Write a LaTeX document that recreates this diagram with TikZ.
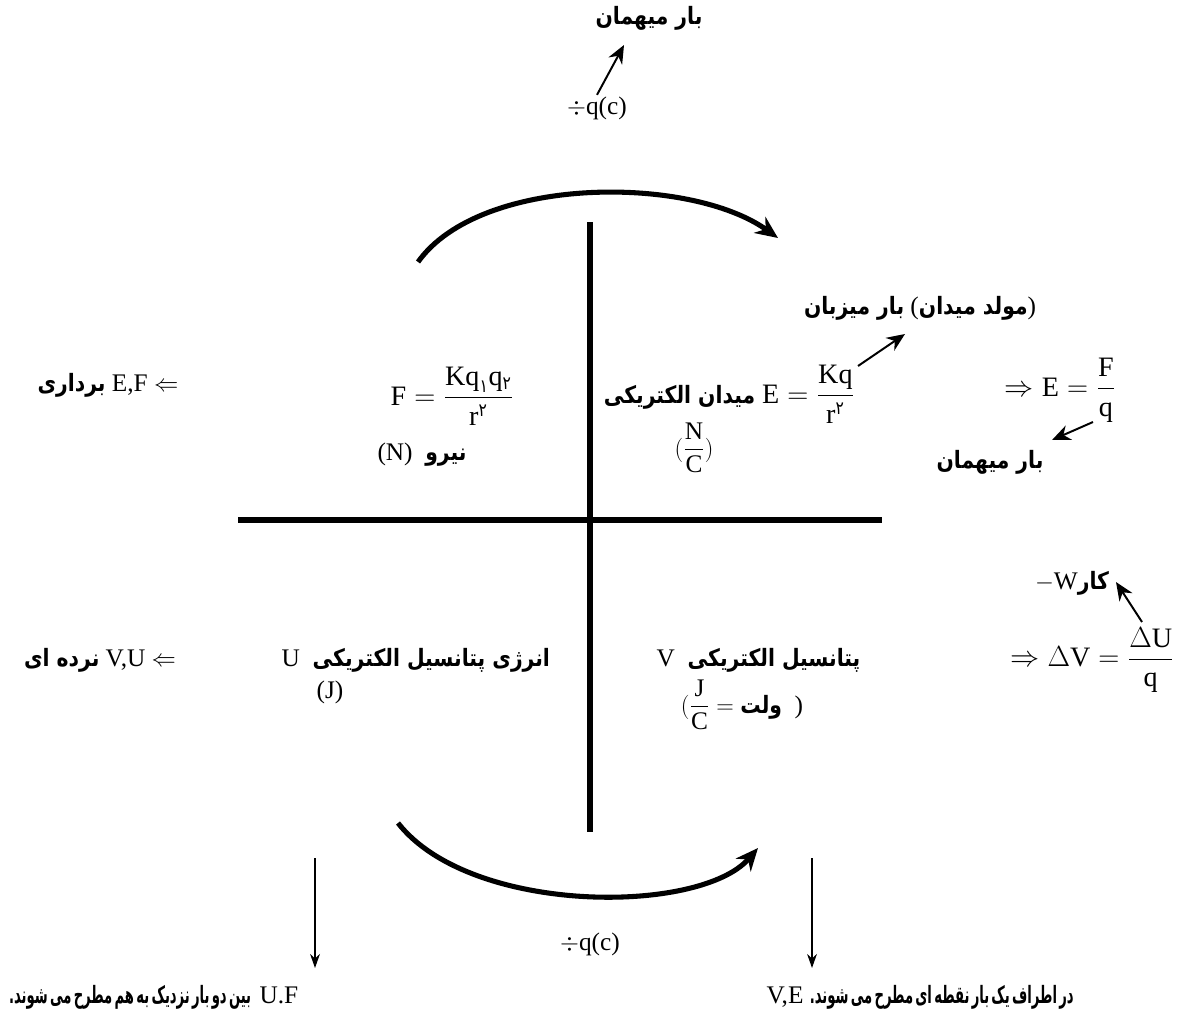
\documentclass[tikz,border=0pt]{standalone}
\usepackage{amsmath}
\usepackage{fontspec}
\setmainfont{Liberation Serif}
\newfontfamily\fafont[Script=Arabic,FakeStretch=0.85]{DejaVu Sans}
\newfontfamily\fanarrow[Script=Arabic,FakeStretch=0.55,WordSpace=0.5]{DejaVu Sans}
\TeXXeTstate=1
\usetikzlibrary{arrows.meta}
\newcommand{\fa}[1]{{\fafont\bfseries\fontsize{17}{20}\selectfont\beginR #1\endR}}
\newcommand{\fas}[1]{{\fanarrow\bfseries\fontsize{17}{20}\selectfont\beginR #1\endR}}
\newcommand{\fn}[1]{\hbox{\fafont\fontsize{13}{13}\selectfont #1}}
\tikzset{>=Stealth,every node/.style={font=\fontsize{18}{22}\selectfont,inner sep=1pt},
  formula/.style={font=\fontsize{20}{24}\selectfont},
  axis/.style={line width=3.6pt},
  turn/.style={line width=3.6pt,-{Stealth[length=16pt,width=14pt]}},
  note/.style={line width=1.4pt,-{Stealth[length=13pt,width=11pt]}},
  drop/.style={line width=1.1pt,-{Stealth[length=10pt,width=7pt]}}}
\begin{document}
\begin{tikzpicture}[x=0.025cm,y=-0.025cm]
\useasboundingbox (0,0) rectangle (1200,1011);
% quadrants
\draw[axis] (590,222)--(590,832);\draw[axis] (238,520)--(882,520);
\draw[turn] (418,262) .. controls (480,175) and (690,175) .. (778,238);
\draw[turn] (398,823) .. controls (470,915) and (700,915) .. (758,848);
% top
\node (guest) at (649,18){\fa{بار میهمان}};
\node (divT) at (597,108){$\div$q(c)};
\coordinate (guestTip) at (624,45);\draw[note] (divT.north)--(guestTip);
% force
\node (vecNote) at (108,385){\fa{برداری} E,F $\Leftarrow$};
\node[formula] (force) at (452,396){$\mathrm{F}=\dfrac{\mathrm{Kq}_{\fn{۱}}\mathrm{q}_{\fn{۲}}}{\mathrm{r}^{\fn{۲}}}$};
\node (forceUnit) at (422,455){(N)\ \ \fa{نیرو}};
% field
\node[formula] (field) at (729,394){\fa{میدان الکتریکی}\ $\mathrm{E}=\dfrac{\mathrm{Kq}}{\mathrm{r}^{\fn{۲}}}$};
\node (fieldUnit) at (694,448){$(\dfrac{\mathrm{N}}{\mathrm{C}})$};
\node (host) at (920,308){\fa{بار میزبان}\ (\fa{مولد میدان})};
\coordinate (hostFrom) at (858,366);\coordinate (hostTip) at (905,334);
\draw[note] (hostFrom)--(hostTip);
\node[formula] (fieldDef) at (1060,390){$\Rightarrow\mathrm{E}=\dfrac{\mathrm{F}}{\mathrm{q}}$};
\node (guestB) at (990,462){\fa{بار میهمان}};
\coordinate (qFrom) at (1093,422);\coordinate (qTip) at (1052,440);
\draw[note] (qFrom)--(qTip);
% energy
\node (scalNote) at (100,660){\fa{نرده ای} V,U $\Leftarrow$};
\node[anchor=west] (energy) at (280,660){U\ \ \fa{انرژی پتانسیل الکتریکی}};
\node (energyUnit) at (330,692){(J)};
% potential
\node[anchor=west] (pot) at (655,660){V\ \ \fa{پتانسیل الکتریکی}};
\node (potUnit) at (742,705){$(\dfrac{\mathrm{J}}{\mathrm{C}}=$ \fa{ولت}\ \ )};
\node (work) at (1072,583){$-$W\fa{کار}};
\node[formula] (potDef) at (1092,660){$\Rightarrow\Delta\mathrm{V}=\dfrac{\Delta\mathrm{U}}{\mathrm{q}}$};
\coordinate (wFrom) at (1142,622);\coordinate (wTip) at (1116,582);
\draw[note] (wFrom)--(wTip);
% bottom
\coordinate (dropL) at (315,858);\coordinate (dropLEnd) at (315,968);
\coordinate (dropR) at (812,858);\coordinate (dropREnd) at (812,968);
\draw[drop] (dropL)--(dropLEnd);\draw[drop] (dropR)--(dropREnd);
\node (divB) at (590,944){$\div$q(c)};
\node[anchor=east] (pairNote) at (300,997){\fas{بین دو بار نزدیک به هم مطرح می شوند.} U.F};
\node[anchor=west] (pointNote) at (765,997){V,E \fas{در اطراف یک بار نقطه ای مطرح می شوند.}};
\end{tikzpicture}
\end{document}
